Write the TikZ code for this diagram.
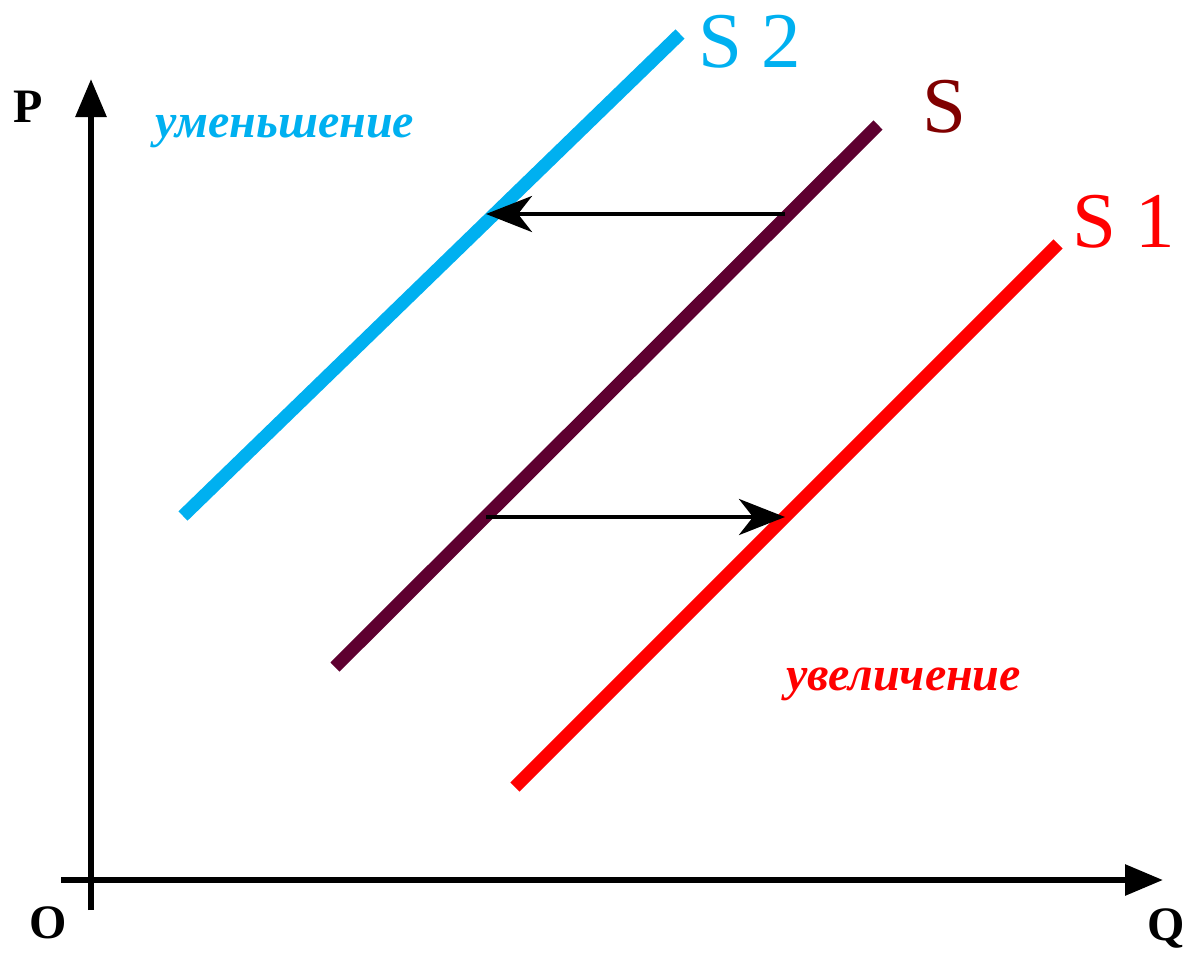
\documentclass[tikz,border=0pt]{standalone}
\usepackage{fontspec}
\setmainfont{Liberation Serif}
\usetikzlibrary{arrows.meta}
\definecolor{cyanS}{HTML}{00B0F0}
\definecolor{maroonS}{HTML}{5E0030}
\definecolor{labelS}{HTML}{800000}
\definecolor{redS}{HTML}{FF0000}
\tikzset{
  axis/.style={line width=6pt, -{Triangle[length=38pt,width=30pt]}},
  curve/.style={line width=13pt, line cap=butt},
  shiftarrow/.style={line width=4.5pt, -{Stealth[length=46pt,width=36pt,inset=14pt]}},
  axlabel/.style={font=\fontsize{48}{50}\selectfont\bfseries, inner sep=0pt},
  slabel/.style={font=\fontsize{79}{82}\selectfont, inner sep=0pt},
  word/.style={font=\fontsize{48}{50}\selectfont\bfseries\itshape, inner sep=0pt}
}
\begin{document}
\begin{tikzpicture}[x=1pt,y=-1pt]
\useasboundingbox (0,0) rectangle (1195,962);
% axes
\coordinate (yb) at (91,910);
\coordinate (yt) at (91,79);
\coordinate (xl) at (61,880);
\coordinate (xr) at (1163,880);
\draw[axis] (yb) -- (yt);
\draw[axis] (xl) -- (xr);
% supply curves
\coordinate (s2a) at (183,516);
\coordinate (s2b) at (680,34);
\coordinate (sa) at (335,667);
\coordinate (sb) at (878,125);
\coordinate (s1a) at (515,787);
\coordinate (s1b) at (1058,244);
\draw[curve, cyanS] (s2a) -- (s2b);
\draw[curve, maroonS] (sa) -- (sb);
\draw[curve, redS] (s1a) -- (s1b);
% shift arrows
\coordinate (u1) at (785,214);
\coordinate (u2) at (486,214);
\coordinate (l1) at (486,517);
\coordinate (l2) at (785,517);
\draw[shiftarrow] (u1) -- (u2);
\draw[shiftarrow] (l1) -- (l2);
% labels
\node[axlabel, anchor=base west] (P) at (13,122) {P};
\node[axlabel, anchor=base west] (O) at (29,938) {O};
\node[axlabel, anchor=base west] (Q) at (1147,940) {Q};
\node[slabel, text=cyanS, anchor=base west] (S2) at (698,67) {S 2};
\node[slabel, text=labelS, anchor=base west] (S) at (922,132) {S};
\node[slabel, text=redS, anchor=base west] (S1) at (1072,247) {S 1};
\node[word, text=cyanS, anchor=base west] (dec) at (155,137) {уменьшение};
\node[word, text=redS, anchor=base west] (inc) at (786,690) {увеличение};
\end{tikzpicture}
\end{document}
